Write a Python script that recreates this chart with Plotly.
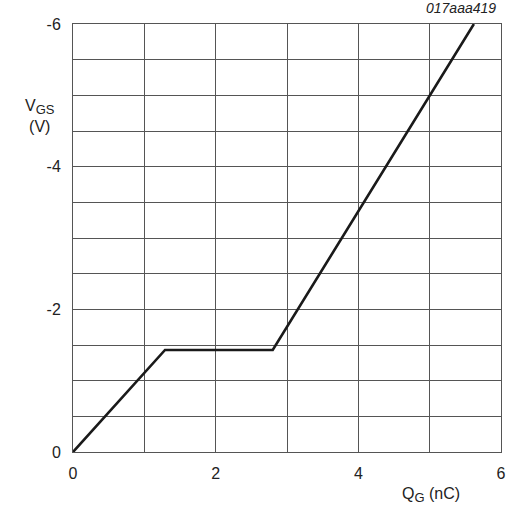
import plotly.graph_objects as go

# Data
qg = [0.0, 1.29, 2.80, 5.62]
vgs = [0.0, -1.43, -1.43, -6.0]
x_ticks = [0, 2, 4, 6]
y_ticks = [0, -2, -4, -6]

fig = go.Figure()
fig.add_trace(go.Scatter(x=qg, y=vgs, mode="lines",
                         line=dict(color="#1a1a1a", width=2.6),
                         cliponaxis=False, showlegend=False))

font = dict(family="Liberation Sans, Arial, sans-serif", size=16, color="#222")
sub = '<sub><span style="font-size:13px">{}</span></sub>'

fig.update_layout(
    width=510, height=509,
    margin=dict(l=73, r=9, t=24, b=57, autoexpand=False),
    paper_bgcolor="white", plot_bgcolor="white",
    font=font,
    xaxis=dict(range=[0, 6], tickvals=x_ticks, ticktext=[str(v) for v in x_ticks],
               showgrid=True, gridcolor="#555", gridwidth=1,
               minor=dict(dtick=1, showgrid=True, gridcolor="#555", gridwidth=1),
               zeroline=False, showline=True, linecolor="#555", linewidth=1, mirror=True,
               ticks="", ticklabelstandoff=7, tickfont=font, automargin=False),
    yaxis=dict(range=[0, -6], tickvals=y_ticks, ticktext=[str(v) for v in y_ticks],
               showgrid=True, gridcolor="#555", gridwidth=1,
               minor=dict(dtick=0.5, showgrid=True, gridcolor="#555", gridwidth=1),
               zeroline=False, showline=True, linecolor="#555", linewidth=1, mirror=True,
               ticks="", ticklabelstandoff=8, tickfont=font, automargin=False),
    annotations=[
        dict(text="V" + sub.format("GS") + "<br>(V)", xref="paper", yref="paper",
             x=-0.078, y=0.785, xanchor="center", yanchor="middle",
             showarrow=False, font=font, align="center"),
        dict(text="Q" + sub.format("G") + " (nC)", xref="paper", yref="paper",
             x=0.909, y=-0.100, xanchor="right", yanchor="middle",
             showarrow=False, font=font),
        dict(text="<i>017aaa419</i>", xref="paper", yref="paper",
             x=1.0, y=1.0, xanchor="right", yanchor="middle", yshift=16, xshift=-3,
             showarrow=False, font=dict(family="Liberation Sans, Arial, sans-serif", size=14, color="#222")),
    ],
)

fig.write_html("out.html")
